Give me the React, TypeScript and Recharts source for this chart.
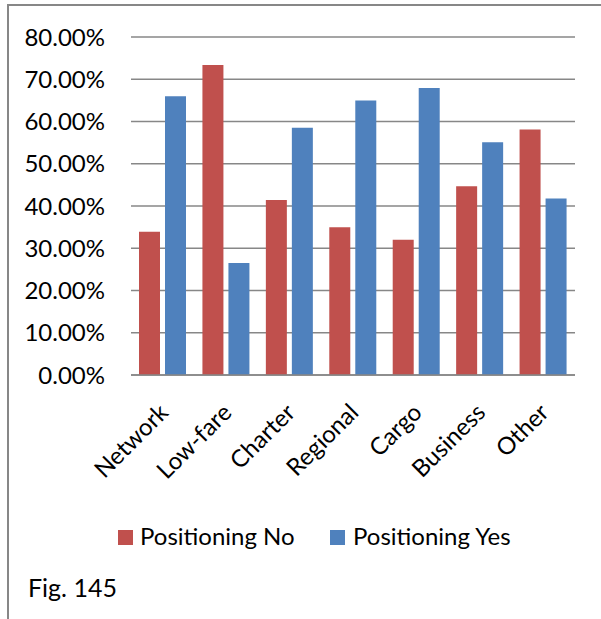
import React from 'react';
import { BarChart, Bar, XAxis, YAxis, CartesianGrid } from 'recharts';

const categories = ['Network', 'Low-fare', 'Charter', 'Regional', 'Cargo', 'Business', 'Other'];
const positioningNo = [0.339, 0.734, 0.414, 0.350, 0.320, 0.447, 0.581];
const positioningYes = [0.660, 0.265, 0.585, 0.650, 0.679, 0.551, 0.418];
const yTicks = [0, 0.1, 0.2, 0.3, 0.4, 0.5, 0.6, 0.7, 0.8];
const seriesNames = ['Positioning No', 'Positioning Yes'];
const figLabel = 'Fig. 145';

const RED = '#C0504D';
const BLUE = '#4F81BD';
const GRID = '#878787';
const FONT = 'Lato, "Noto Sans", sans-serif';
const FS = 24;

const data = categories.map((c, i) => ({ name: c, no: positioningNo[i], yes: positioningYes[i] }));

const XTick = (props: any) => {
  const { x, y, payload } = props;
  const ax = x + 7;
  const ay = y + 31;
  return (
    <text
      x={ax}
      y={ay}
      textAnchor="end"
      transform={`rotate(-45, ${ax}, ${ay})`}
      fontSize={FS}
      fontFamily={FONT}
      fill="#000"
    >
      {payload.value}
    </text>
  );
};

export default function App() {
  return (
    <div style={{ position: 'absolute', left: 0, top: 0, width: 601, height: 619, background: '#fff', overflow: 'hidden' }}>
      <div
        style={{
          position: 'absolute',
          left: 7,
          top: 4,
          width: 700,
          height: 700,
          borderLeft: '2px solid #878787',
          borderTop: '2px solid #878787',
        }}
      />
      <div style={{ position: 'absolute', left: 0, top: 0 }}>
        <BarChart
          width={601}
          height={619}
          data={data}
          margin={{ top: 37, right: 26, bottom: 144, left: 0 }}
          barCategoryGap={8}
          barGap={5}
        >
          <CartesianGrid vertical={false} stroke={GRID} strokeWidth={1.4} />
          <YAxis
            width={131}
            domain={[0, 0.8]}
            ticks={yTicks}
            interval={0}
            axisLine={false}
            tickLine={false}
            tickSize={0}
            tickMargin={26}
            tickFormatter={(v: number) => (v * 100).toFixed(2) + '%'}
            tick={{ fontSize: FS, fontFamily: FONT, fill: '#000' }}
          />
          <XAxis
            dataKey="name"
            height={100}
            interval={0}
            axisLine={{ stroke: GRID, strokeWidth: 1.4 }}
            tickLine={false}
            tick={<XTick />}
          />
          <Bar dataKey="no" name={seriesNames[0]} fill={RED} isAnimationActive={false} />
          <Bar dataKey="yes" name={seriesNames[1]} fill={BLUE} isAnimationActive={false} />
        </BarChart>
      </div>
      <div style={{ position: 'absolute', left: 118, top: 530, width: 15, height: 15, background: RED }} />
      <div style={{ position: 'absolute', left: 140, top: 521, fontFamily: FONT, fontSize: FS, lineHeight: '30px', color: '#000', whiteSpace: 'nowrap' }}>
        {seriesNames[0]}
      </div>
      <div style={{ position: 'absolute', left: 330, top: 530, width: 15, height: 15, background: BLUE }} />
      <div style={{ position: 'absolute', left: 353, top: 521, fontFamily: FONT, fontSize: FS, lineHeight: '30px', color: '#000', whiteSpace: 'nowrap' }}>
        {seriesNames[1]}
      </div>
      <div style={{ position: 'absolute', left: 28, top: 571, fontFamily: FONT, fontSize: 25, lineHeight: '32px', color: '#000', whiteSpace: 'nowrap' }}>
        {figLabel}
      </div>
    </div>
  );
}
